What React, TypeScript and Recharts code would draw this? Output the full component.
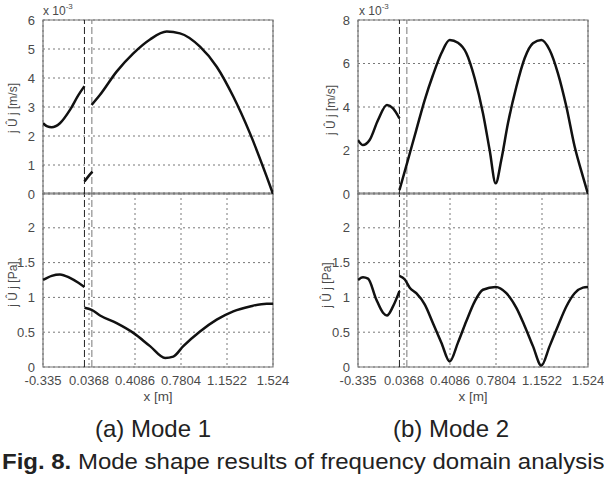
import { LineChart, Line, XAxis, YAxis, CartesianGrid, ReferenceLine, ReferenceArea } from "recharts";

// x positions of the tick labels [m]
const xTicks = [-0.335, 0.0368, 0.4086, 0.7804, 1.1522, 1.524];
const velTicksM1 = [0, 1, 2, 3, 4, 5, 6];
const velTicksM2 = [0, 2, 4, 6, 8];
const presTicks = [0, 0.5, 1, 1.5, 2];
const dashedX = [0, 0.06];

// Mode 1, |u| (x 10^-3 m/s)
const m1VelAx = [-0.335, -0.3, -0.265, -0.198, -0.117, -0.049, 0];
const m1VelA = [2.44, 2.33, 2.3, 2.44, 2.9, 3.41, 3.72];
const m1VelBx = [0, 0.03, 0.065];
const m1VelB = [0.43, 0.6, 0.77];
const m1VelCx = [0.058, 0.126, 0.26, 0.395, 0.53, 0.665, 0.772, 0.934, 1.069, 1.203, 1.338, 1.473, 1.524];
const m1VelC = [3.07, 3.42, 4.22, 4.85, 5.33, 5.6, 5.54, 5.08, 4.39, 3.36, 2.09, 0.6, 0];

// Mode 1, |p| (Pa)
const m1PresAx = [-0.335, -0.265, -0.198, -0.117, -0.049, 0];
const m1PresA = [1.25, 1.31, 1.33, 1.28, 1.21, 1.15];
const m1PresBx = [0, 0.058, 0.126, 0.26, 0.395, 0.53, 0.652, 0.718, 0.799, 0.934, 1.069, 1.203, 1.338, 1.473, 1.524];
const m1PresB = [0.85, 0.82, 0.74, 0.63, 0.49, 0.3, 0.13, 0.15, 0.3, 0.51, 0.68, 0.8, 0.87, 0.91, 0.91];

// Mode 2, |u| (x 10^-3 m/s)
const m2VelAx = [-0.335, -0.295, -0.241, -0.173, -0.101, -0.052, 0];
const m2VelA = [2.48, 2.25, 2.48, 3.4, 4.09, 3.94, 3.48];
const m2VelBx = [0, 0.061, 0.136, 0.204, 0.271, 0.339, 0.406, 0.473, 0.541, 0.608, 0.675, 0.729, 0.778, 0.823, 0.877, 0.945, 1.012, 1.079, 1.147, 1.214, 1.281, 1.349, 1.416, 1.483, 1.524];
const m2VelB = [0.18, 1.41, 2.94, 4.32, 5.47, 6.47, 7.08, 6.95, 6.47, 5.32, 3.71, 2.02, 0.49, 1.56, 3.25, 4.93, 6.24, 6.93, 7.08, 6.62, 5.55, 4.02, 2.18, 0.8, 0];

// Mode 2, |p| (Pa)
const m2PresAx = [-0.335, -0.295, -0.254, -0.187, -0.133, -0.101, -0.052, 0];
const m2PresA = [1.25, 1.29, 1.27, 0.97, 0.78, 0.74, 0.87, 1.09];
const m2PresBx = [0, 0.042, 0.083, 0.136, 0.204, 0.271, 0.339, 0.406, 0.473, 0.541, 0.608, 0.675, 0.778, 0.864, 0.945, 1.012, 1.079, 1.147, 1.214, 1.281, 1.349, 1.416, 1.483, 1.524];
const m2PresB = [1.31, 1.26, 1.14, 1.06, 0.9, 0.63, 0.35, 0.08, 0.35, 0.66, 0.94, 1.11, 1.15, 1.06, 0.85, 0.59, 0.3, 0.02, 0.3, 0.59, 0.87, 1.06, 1.14, 1.15];

type Pt = { x: number; v: number };
const zip = (xs: number[], vs: number[]): Pt[] => xs.map((x, i) => ({ x, v: vs[i] }));

const FONT = "'Liberation Sans', Arial, sans-serif";
const TXT = "#4a4a4a";

function Panel({
  segments,
  yMax,
  yTicks,
  bottom,
}: {
  segments: Pt[][];
  yMax: number;
  yTicks: number[];
  bottom: boolean;
}) {
  const height = bottom ? 224 : 210;
  return (
    <LineChart
      width={290}
      height={height}
      margin={bottom ? { top: 13, right: 17, bottom: 7, left: 13 } : { top: 20, right: 17, bottom: 16, left: 13 }}
    >
      <CartesianGrid stroke="#555" strokeDasharray="2 3" strokeWidth={0.8} />
      <XAxis
        type="number"
        dataKey="x"
        domain={[-0.335, 1.524]}
        ticks={xTicks}
        allowDataOverflow
        axisLine={false}
        tickLine={false}
        height={bottom ? 30 : 0}
        tickMargin={3}
        tick={bottom ? { fontSize: 13, fill: TXT, fontFamily: FONT } : false}
        tickFormatter={(v) => String(v)}
        interval={0}
      />
      <YAxis
        type="number"
        dataKey="v"
        domain={[0, yMax]}
        ticks={yTicks}
        allowDataOverflow
        axisLine={false}
        tickLine={false}
        width={30}
        interval={0}
        tick={{ fontSize: 13, fill: TXT, fontFamily: FONT }}
      />
      <ReferenceArea x1={-0.335} x2={1.524} y1={0} y2={yMax} fill="none" stroke="#777" strokeWidth={1.2} />
      <ReferenceLine x={dashedX[0]} stroke="#222" strokeDasharray="7 3" strokeWidth={1} />
      <ReferenceLine x={dashedX[1]} stroke="#777" strokeDasharray="7 3" strokeWidth={1} />
      {segments.map((seg, i) => (
        <Line
          key={i}
          data={seg}
          dataKey="v"
          type="monotone"
          stroke="#111"
          strokeWidth={2.5}
          dot={false}
          isAnimationActive={false}
        />
      ))}
    </LineChart>
  );
}

const abs = (left: number, top: number): React.CSSProperties => ({ position: "absolute", left, top });

function YLabel({ x, y, text }: { x: number; y: number; text: string }) {
  return (
    <div
      style={{
        position: "absolute",
        left: x,
        top: y,
        transform: "translate(-50%, -50%) rotate(-90deg)",
        fontFamily: FONT,
        fontSize: 12,
        color: TXT,
        whiteSpace: "nowrap",
      }}
    >
      {text}
    </div>
  );
}

function Exponent({ x }: { x: number }) {
  return (
    <div style={{ ...abs(x, 2), fontFamily: FONT, fontSize: 12, color: TXT, whiteSpace: "nowrap" }}>
      x 10<sup style={{ fontSize: 8, verticalAlign: "6px" }}>-3</sup>
    </div>
  );
}

export default function App() {
  return (
    <div style={{ position: "absolute", left: 0, top: 0, width: 604, height: 479, overflow: "hidden", background: "#fff" }}>
      <div style={abs(0, 180)}>
        <Panel segments={[zip(m1PresAx, m1PresA), zip(m1PresBx, m1PresB)]} yMax={2.5} yTicks={presTicks} bottom />
      </div>
      <div style={abs(0, 0)}>
        <Panel
          segments={[zip(m1VelAx, m1VelA), zip(m1VelBx, m1VelB), zip(m1VelCx, m1VelC)]}
          yMax={6}
          yTicks={velTicksM1}
          bottom={false}
        />
      </div>
      <div style={abs(315, 180)}>
        <Panel segments={[zip(m2PresAx, m2PresA), zip(m2PresBx, m2PresB)]} yMax={2.5} yTicks={presTicks} bottom />
      </div>
      <div style={abs(315, 0)}>
        <Panel segments={[zip(m2VelAx, m2VelA), zip(m2VelBx, m2VelB)]} yMax={8} yTicks={velTicksM2} bottom={false} />
      </div>

      <Exponent x={43} />
      <Exponent x={359} />
      <YLabel x={13} y={108} text="j Û j [m/s]" />
      <YLabel x={13} y={284} text="j Û j [Pa]" />
      <YLabel x={331} y={110} text="j Û j [m/s]" />
      <YLabel x={327} y={285} text="j Û j [Pa]" />

      <div style={{ ...abs(158, 389), transform: "translateX(-50%)", fontFamily: FONT, fontSize: 13.5, color: TXT }}>x [m]</div>
      <div style={{ ...abs(473, 389), transform: "translateX(-50%)", fontFamily: FONT, fontSize: 13.5, color: TXT }}>x [m]</div>

      <div style={{ ...abs(153, 415), transform: "translateX(-50%)", fontFamily: FONT, fontSize: 24, color: "#222", whiteSpace: "nowrap" }}>
        (a) Mode 1
      </div>
      <div style={{ ...abs(451, 415), transform: "translateX(-50%)", fontFamily: FONT, fontSize: 24, color: "#222", whiteSpace: "nowrap" }}>
        (b) Mode 2
      </div>
      <div
        style={{
          ...abs(2, 449),
          fontFamily: FONT,
          fontSize: 22,
          color: "#222",
          whiteSpace: "nowrap",
          transform: "scaleX(1.09)",
          transformOrigin: "left top",
        }}
      >
        <b>Fig. 8.</b> Mode shape results of frequency domain analysis
      </div>
    </div>
  );
}
